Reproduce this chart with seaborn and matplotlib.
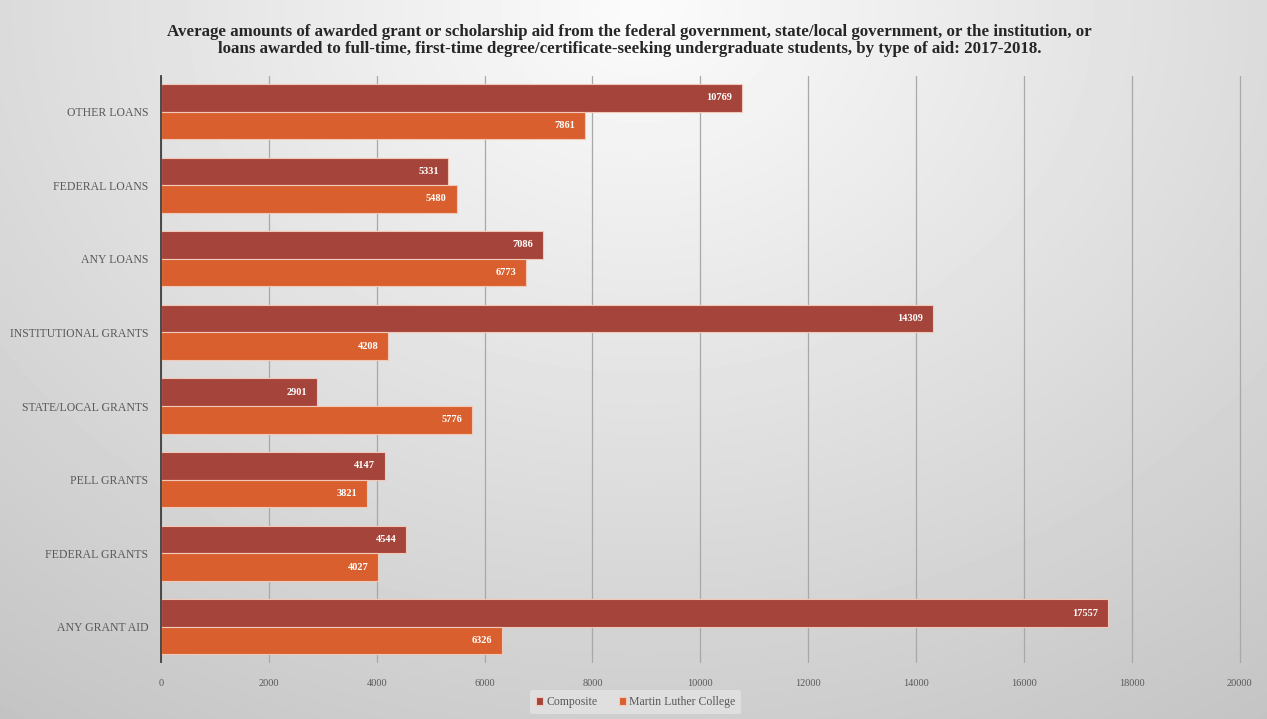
import numpy as np
import pandas as pd
import matplotlib
matplotlib.use("Agg")
import matplotlib.pyplot as plt
import seaborn as sns

categories = [
    "OTHER LOANS",
    "FEDERAL LOANS",
    "ANY LOANS",
    "INSTITUTIONAL GRANTS",
    "STATE/LOCAL GRANTS",
    "PELL GRANTS",
    "FEDERAL GRANTS",
    "ANY GRANT AID",
]
composite = [10769, 5331, 7086, 14309, 2901, 4147, 4544, 17557]
mlc = [7861, 5480, 6773, 4208, 5776, 3821, 4027, 6326]
series_names = ["Composite", "Martin Luther College"]
x_ticks = list(range(0, 20001, 2000))

title = (
    "Average amounts of awarded grant or scholarship aid from the federal government, "
    "state/local government, or the institution, or\n"
    "loans awarded to full-time, first-time degree/certificate-seeking undergraduate "
    "students, by type of aid: 2017-2018."
)

df = pd.DataFrame({
    "category": categories * 2,
    "amount": composite + mlc,
    "series": [series_names[0]] * len(categories) + [series_names[1]] * len(categories),
})

sns.set_theme(style="white")
plt.rcParams["font.family"] = ["Liberation Serif", "DejaVu Serif"]

fig = plt.figure(figsize=(12.67, 7.19), dpi=100)

# grey radial backdrop, lightest near the top centre
bg = fig.add_axes([0, 0, 1, 1], zorder=-10)
yy, xx = np.mgrid[0:719, 0:1267]
dist = np.sqrt(((xx - 640) / 950.0) ** 2 + ((yy - 10) / 760.0) ** 2)
shade = np.clip(0.985 - 0.19 * dist, 0.76, 0.985)
bg.imshow(shade, cmap="gray", vmin=0, vmax=1, aspect="auto")
bg.axis("off")

ax = fig.add_axes([0.127, 0.079, 0.8515, 0.815])
ax.set_facecolor("none")

palette = ["#A5443A", "#D9602E"]
sns.barplot(
    data=df, y="category", x="amount", hue="series", orient="h",
    palette=palette, saturation=1, width=0.75, edgecolor="#F2C9B8",
    linewidth=0.8, ax=ax, legend=True,
)

for cont in ax.containers:
    labels = ax.bar_label(cont, fmt="%d", padding=-7, color="white",
                          fontsize=7.5, fontweight="bold")
    for t in labels:
        t.set_ha("right")

ax.set_xlim(0, 20000)
ax.set_ylim(7.48, -0.48)
ax.set_xticks(x_ticks)
ax.set_xticklabels([str(v) for v in x_ticks], fontsize=7.5, color="#595959")
ax.tick_params(axis="x", length=0, pad=12)
ax.tick_params(axis="y", length=0, pad=9, labelsize=8.5, labelcolor="#595959")
ax.set_xlabel("")
ax.set_ylabel("")
ax.xaxis.grid(True, color="#A8A8A8", linewidth=0.9)
ax.set_axisbelow(True)
# keep the last gridline (20000) from being half clipped at the axes edge
for gl in ax.get_xgridlines():
    gl.set_clip_on(False)
for side in ["top", "right", "bottom"]:
    ax.spines[side].set_visible(False)
ax.spines["left"].set_color("#3F3F3F")
ax.spines["left"].set_linewidth(1.3)

leg = ax.legend(
    loc="center", bbox_to_anchor=(0.44, -0.068),
    ncol=2, frameon=True, fontsize=8.5, handlelength=0.6, handleheight=0.6,
    handletextpad=0.3, columnspacing=1.8, borderpad=0.5,
)
leg.get_frame().set_facecolor("#E6E6E6")
leg.get_frame().set_edgecolor("none")
leg.get_frame().set_alpha(0.7)
for t in leg.get_texts():
    t.set_color("#595959")

fig.text(0.497, 0.944, title, ha="center", va="center", fontsize=12.2,
         fontweight="bold", color="#262626", linespacing=1.12)

fig.savefig("out.png", dpi=100)
